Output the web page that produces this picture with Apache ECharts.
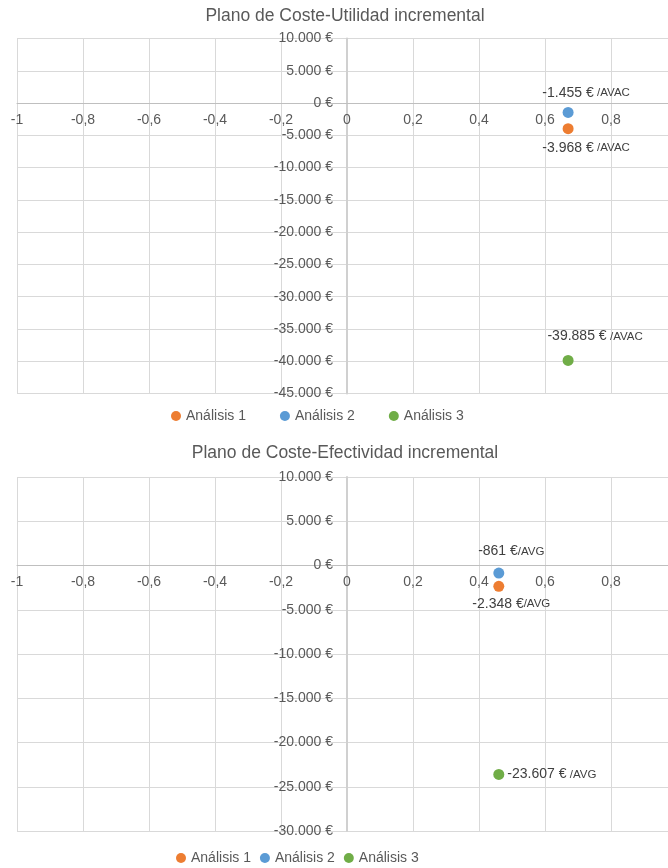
<!DOCTYPE html>
<html>
<head>
<meta charset="utf-8">
<script src="https://cdn.jsdelivr.net/npm/echarts@6/dist/echarts.min.js"></script>
<style>
html,body{margin:0;padding:0;background:#fff;}
#chart{width:668px;height:868px;}
</style>
</head>
<body>
<div id="chart"></div>
<script>
// ---- data ----
const categories = ['Análisis 1', 'Análisis 2', 'Análisis 3'];
const colors = ['#ED7D31', '#5B9BD5', '#70AD47'];
// Plano de Coste-Utilidad incremental
const cuTitle = 'Plano de Coste-Utilidad incremental';
const cuX = [0.67, 0.67, 0.67];
const cuY = [-3968, -1455, -39885];
const cuUnit = '/AVAC';
const cuYMin = -45000, cuYMax = 10000;
// Plano de Coste-Efectividad incremental
const ceTitle = 'Plano de Coste-Efectividad incremental';
const ceX = [0.46, 0.46, 0.46];
const ceY = [-2348, -861, -23607];
const ceUnit = '/AVG';
const ceYMin = -30000, ceYMax = 10000;
const xMin = -1, xMax = 1, xStep = 0.2, yStep = 5000;

// ---- helpers ----
function euro(v) {
  const s = Math.round(Math.abs(v)).toString().replace(/\B(?=(\d{3})+(?!\d))/g, '.');
  return (v < 0 ? '-' : '') + s + ' €';
}
function xfmt(v) {
  const r = Math.round(v * 10) / 10;
  if (r === 0) return '0';
  return String(r).replace('.', ',');
}
const FONT = "'Liberation Sans', Arial, sans-serif";
const GREY = '#595959';

function makeSeries(gi, xs, ys, unit, labelCfgs, sep) {
  return categories.map((name, i) => ({
    type: 'scatter',
    name: name,
    xAxisIndex: gi,
    yAxisIndex: gi,
    symbol: 'circle',
    symbolSize: 11,
    z: 5,
    itemStyle: { color: colors[i], opacity: 1 },
    data: [[xs[i], ys[i]]],
    label: Object.assign({
      show: true,
      color: '#404040',
      fontFamily: FONT,
      formatter: (p) => '{v|' + euro(p.value[1]) + '}' + (sep[i] ? ' ' : '') + '{u|' + unit + '}',
      rich: {
        v: { fontSize: 14, fontFamily: FONT, color: '#404040' },
        u: { fontSize: 11.5, fontFamily: FONT, color: '#404040' }
      }
    }, labelCfgs[i]),
    emphasis: { disabled: true }
  }));
}

function xAxisCfg(gi) {
  return {
    type: 'value', gridIndex: gi, min: xMin, max: xMax, interval: xStep,
    position: 'bottom', offset: 0,
    axisLine: { onZero: false, lineStyle: { color: '#bfbfbf', width: 1 } },
    axisTick: { show: false },
    axisLabel: { formatter: xfmt, color: GREY, fontSize: 14, fontFamily: FONT, margin: 10, showMaxLabel: true, showMinLabel: true },
    splitLine: { show: true, lineStyle: { color: '#d9d9d9', width: 1 } }
  };
}
function yAxisCfg(gi, mn, mx) {
  return {
    type: 'value', gridIndex: gi, min: mn, max: mx, interval: yStep,
    position: 'left', offset: 0,
    axisLine: { onZero: false, lineStyle: { color: '#d0d0d0', width: 2 } },
    axisTick: { show: false },
    axisLabel: { formatter: euro, color: GREY, fontSize: 14, fontFamily: FONT, margin: 14 },
    splitLine: { show: true, lineStyle: { color: '#d9d9d9', width: 1 } }
  };
}

const chart = echarts.init(document.getElementById('chart'), null, { renderer: 'canvas' });
const option = {
  animation: false,
  backgroundColor: '#ffffff',
  title: [
    { text: cuTitle, left: 345, top: 7, textAlign: 'center', padding: 0,
      textStyle: { color: GREY, fontSize: 17.5, fontWeight: 'normal', fontFamily: FONT } },
    { text: ceTitle, left: 345, top: 444, textAlign: 'center', padding: 0,
      textStyle: { color: GREY, fontSize: 17.5, fontWeight: 'normal', fontFamily: FONT } }
  ],
  legend: [
    { data: categories, left: 171, top: 409, padding: 0, itemGap: 34, itemWidth: 10, itemHeight: 10,
      icon: 'circle', selectedMode: false,
      textStyle: { color: GREY, fontSize: 14, fontFamily: FONT } },
    { data: categories, left: 176, top: 851, padding: 0, itemGap: 9, itemWidth: 10, itemHeight: 10,
      icon: 'circle', selectedMode: false,
      textStyle: { color: GREY, fontSize: 14, fontFamily: FONT } }
  ],
  grid: [
    { left: 17, top: 38.5, width: 660, height: 355, outerBoundsMode: 'none', containLabel: false },
    { left: 17, top: 477, width: 660, height: 354, outerBoundsMode: 'none', containLabel: false }
  ],
  xAxis: [xAxisCfg(0), xAxisCfg(1)],
  yAxis: [yAxisCfg(0, cuYMin, cuYMax), yAxisCfg(1, ceYMin, ceYMax)],
  series: [].concat(
    makeSeries(0, cuX, cuY, cuUnit, [
      { position: 'bottom', distance: 6.5, offset: [18, 0] },
      { position: 'top', distance: 7, offset: [18, 0] },
      { position: 'top', distance: 11.5, offset: [27, 0] }
    ], [true, true, true]),
    makeSeries(1, ceX, ceY, ceUnit, [
      { position: 'bottom', distance: 5, offset: [12.5, 0] },
      { position: 'top', distance: 9, offset: [12.5, 0] },
      { position: 'right', distance: 3, offset: [0, 0] }
    ], [false, false, true])
  )
};
chart.setOption(option);

// Move each axis (line + labels) onto the other axis's zero, using the library's own scales.
const yMins = [cuYMin, ceYMin];
const xOff = [], yOff = [];
[0, 1].forEach(gi => {
  const zero = chart.convertToPixel({ gridIndex: gi }, [0, 0]);
  const corner = chart.convertToPixel({ gridIndex: gi }, [xMin, yMins[gi]]);
  xOff.push({ offset: zero[1] - corner[1] });
  yOff.push({ offset: corner[0] - zero[0] });
});
chart.setOption({ xAxis: xOff, yAxis: yOff });
</script>
</body>
</html>
